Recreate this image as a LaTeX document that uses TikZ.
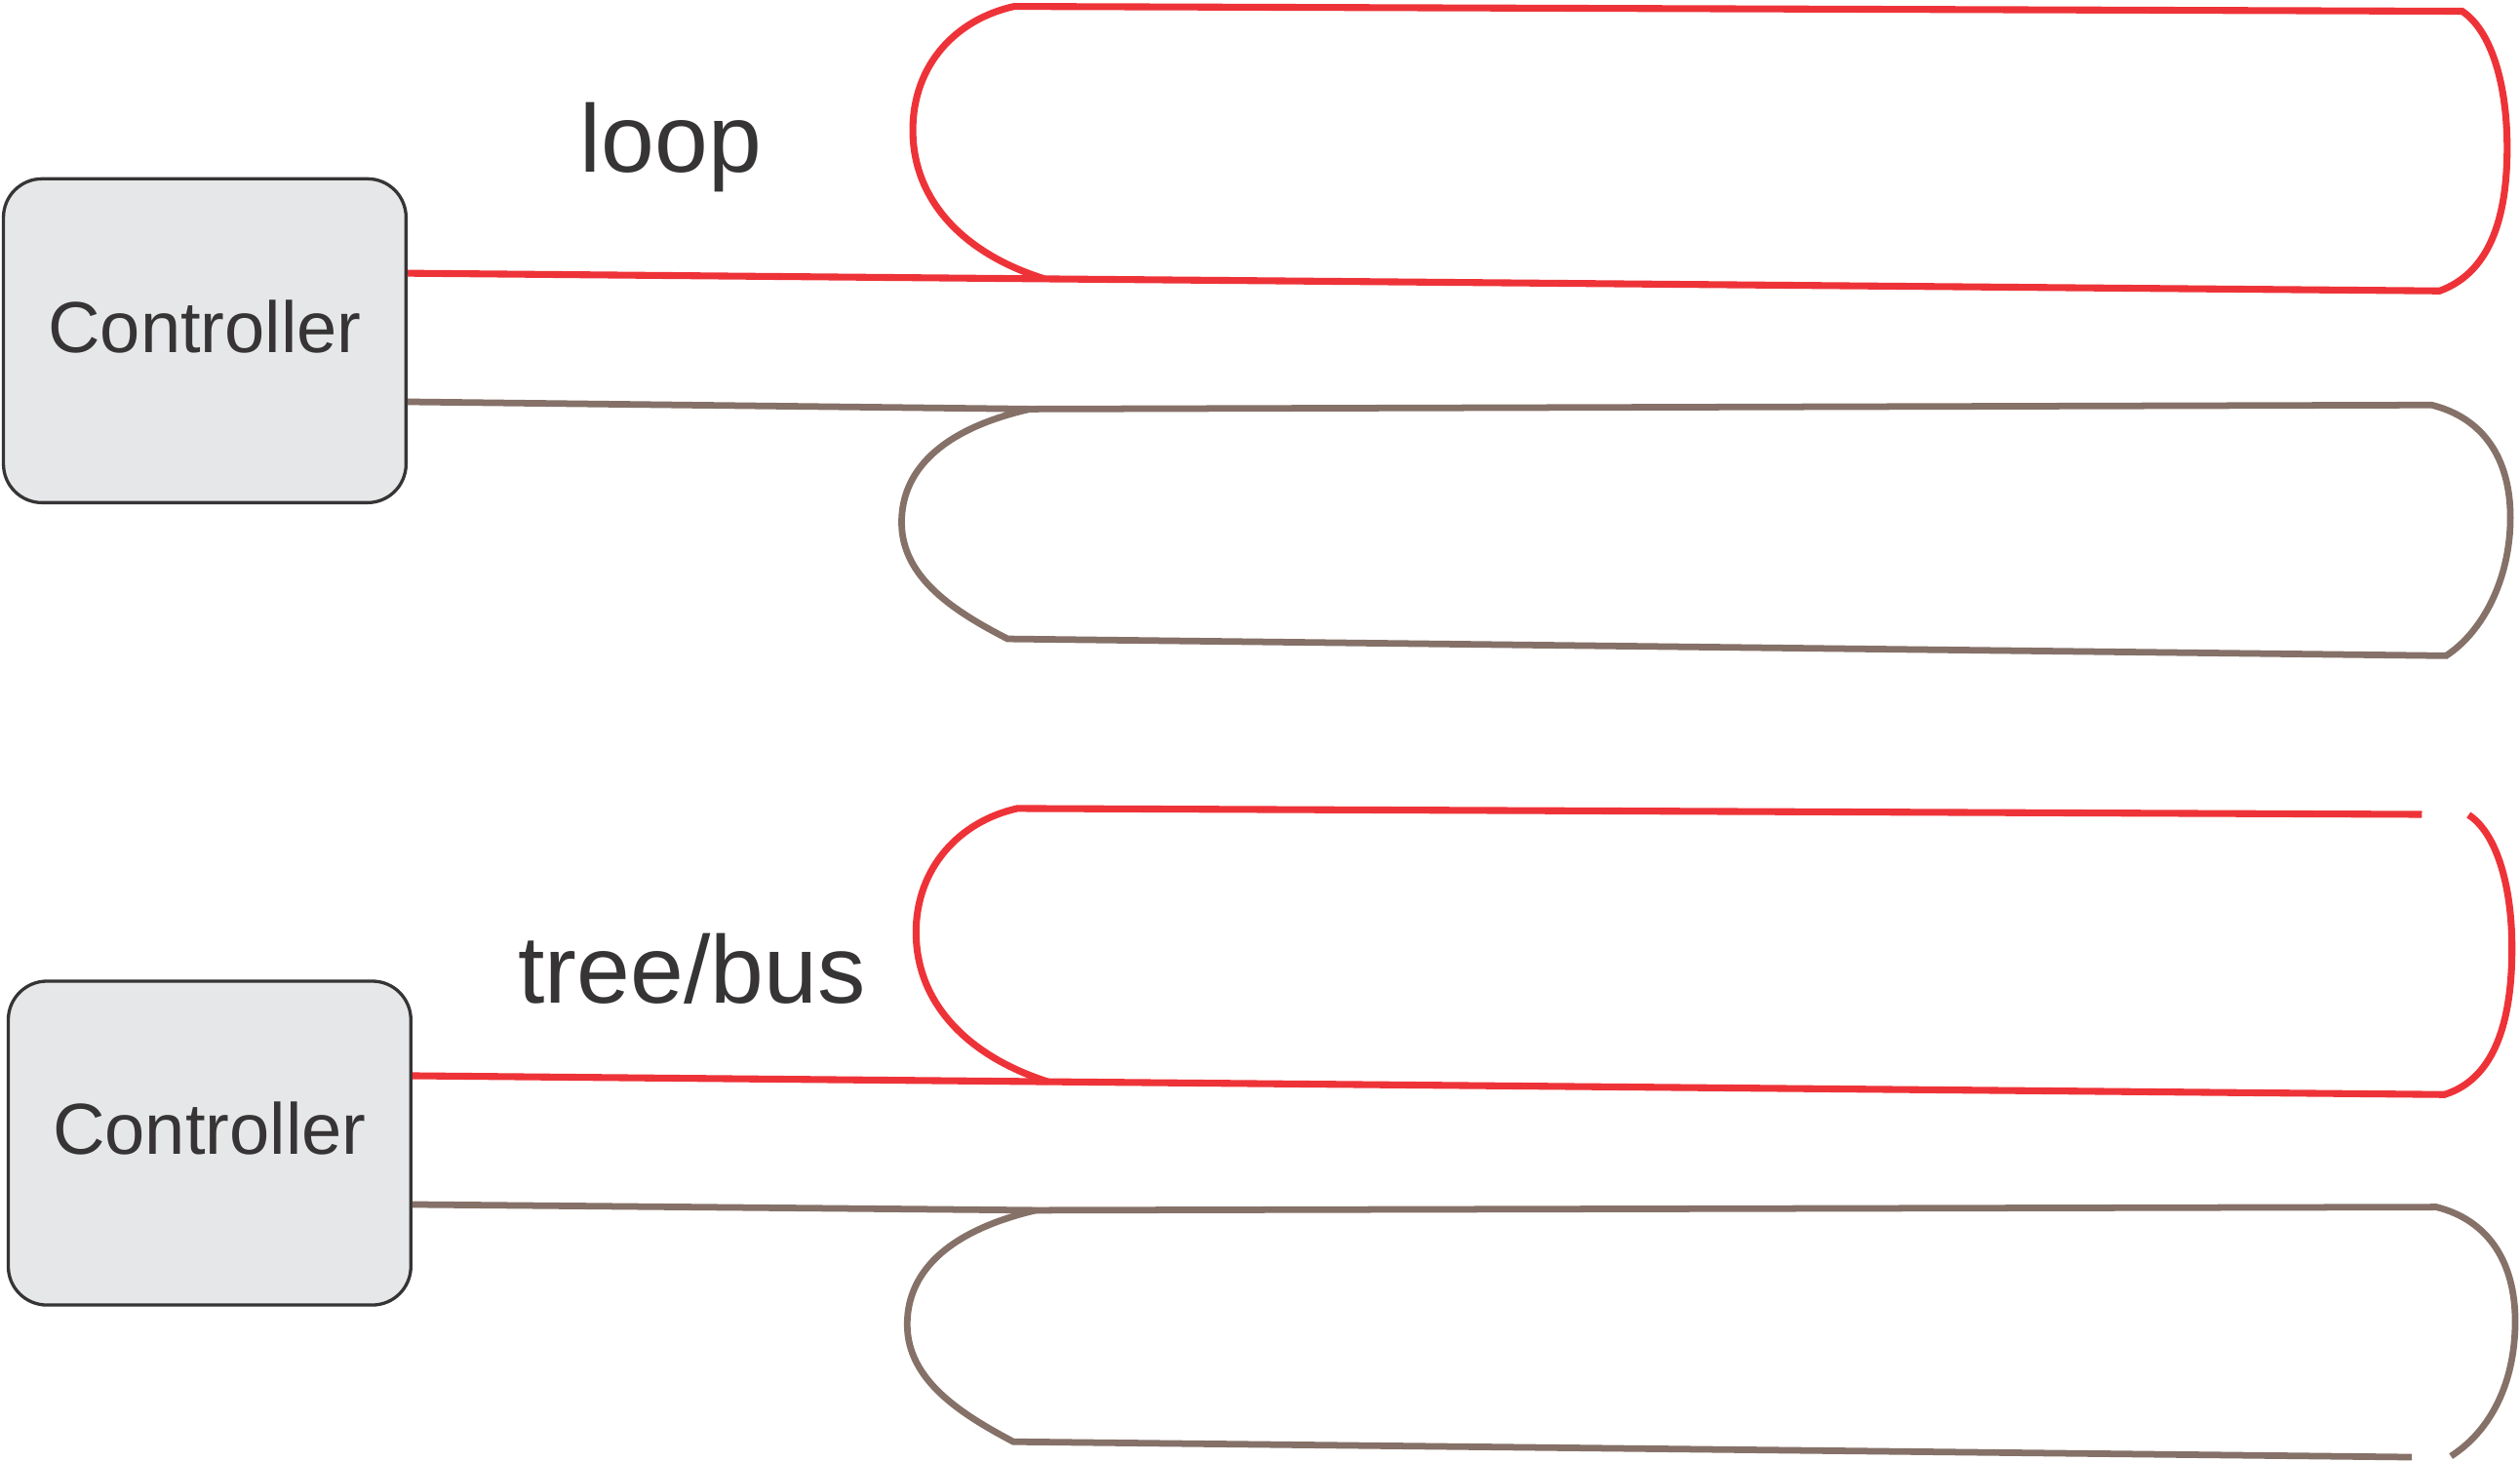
\documentclass[tikz,border=0pt]{standalone}
\usepackage{fontspec}
\setmainfont{Liberation Sans}
\definecolor{wirered}{HTML}{EE3338}
\definecolor{wiregray}{HTML}{857168}
\definecolor{boxfill}{HTML}{E6E7E8}
\definecolor{inkdark}{HTML}{363435}
\tikzset{
  ctrlbox/.style={draw=inkdark, line width=0.2mm, fill=boxfill, rounded corners=2.4mm,
    minimum width=25.05mm, minimum height=20.15mm, inner sep=0pt},
  ctrltext/.style={text=inkdark, inner sep=0pt, font=\fontsize{12.8pt}{14pt}\selectfont},
  toplabel/.style={text=inkdark, inner sep=0pt, anchor=base, font=\fontsize{17pt}{19pt}\selectfont},
  redwire/.style={draw=wirered, line width=0.43mm},
  graywire/.style={draw=wiregray, line width=0.41mm}
}
\begin{document}
\begin{tikzpicture}[x=0.1mm, y=-0.1mm]
\useasboundingbox (0,0) rectangle (1568,909.6);

% controllers
\node[ctrlbox] (cA) at (127.4,212) {};
\node[ctrltext] (cAt) at (127.4,203) {Controller};
\node[ctrlbox] (cB) at (130.4,711.2) {};
\node[ctrltext] (cBt) at (130.4,702) {Controller};

% labels
\node[toplabel] (tLoop) at (417.5,107) {loop};
\node[toplabel] (tTree) at (430.5,624.4) {tree/bus};

% helper coordinates
\coordinate (yR1) at (0,170);
\coordinate (yG1) at (0,250);
\coordinate (yR2) at (0,669.3);
\coordinate (yG2) at (0,749.4);

\coordinate (rJ1) at (650,173.5);
\coordinate (rBR1) at (1518,181);
\coordinate (rTR1) at (1532,7);
\coordinate (rTL1) at (631,4);

\coordinate (gJ1) at (641,254.5);
\coordinate (gTR1) at (1513,252);
\coordinate (gBR1) at (1522,408);
\coordinate (gBL1) at (627,397.5);

\coordinate (rJ2) at (652,673);
\coordinate (rBR2) at (1521,681);
\coordinate (rCS2) at (1536,507);
\coordinate (rTE2) at (1507,506.7);
\coordinate (rTL2) at (633,503);

\coordinate (gJ2) at (644.5,753);
\coordinate (gTR2) at (1516,751);
\coordinate (gCE2) at (1525,906);
\coordinate (gBE2) at (1500.7,906.6);
\coordinate (gBL2) at (630.5,897);

% loop: red
\draw[redwire] (cA.east |- yR1) -- (rJ1) -- (rBR1)
  .. controls (1548,170) and (1560,138) .. (1560,92)
  .. controls (1560,52) and (1550,19) .. (rTR1) -- (rTL1)
  .. controls (595,12) and (568,40) .. (568,81)
  .. controls (568,125) and (600,158) .. (rJ1);
% loop: gray
\draw[graywire] (cA.east |- yG1) -- (gJ1) -- (gTR1)
  .. controls (1545,260) and (1562,285) .. (1562,322)
  .. controls (1562,360) and (1545,393) .. (gBR1) -- (gBL1)
  .. controls (595,381) and (561,360) .. (561,325)
  .. controls (561,290) and (590,266) .. (gJ1);

% tree/bus: red
\draw[redwire] (cB.east |- yR2) -- (rJ2) -- (rBR2)
  .. controls (1550,672) and (1563,640) .. (1563,590)
  .. controls (1563,550) and (1553,518) .. (rCS2);
\draw[redwire] (rTE2) -- (rTL2)
  .. controls (597,511) and (570,540) .. (570,580)
  .. controls (570,624) and (602,657) .. (rJ2);
% tree/bus: gray
\draw[graywire] (cB.east |- yG2) -- (gJ2) -- (gTR2)
  .. controls (1548,759) and (1565,785) .. (1565,822)
  .. controls (1565,860) and (1550,890) .. (gCE2);
\draw[graywire] (gBE2) -- (gBL2)
  .. controls (598.5,880) and (564.5,859) .. (564.5,824)
  .. controls (564.5,789) and (593.5,765) .. (gJ2);
\end{tikzpicture}
\end{document}
